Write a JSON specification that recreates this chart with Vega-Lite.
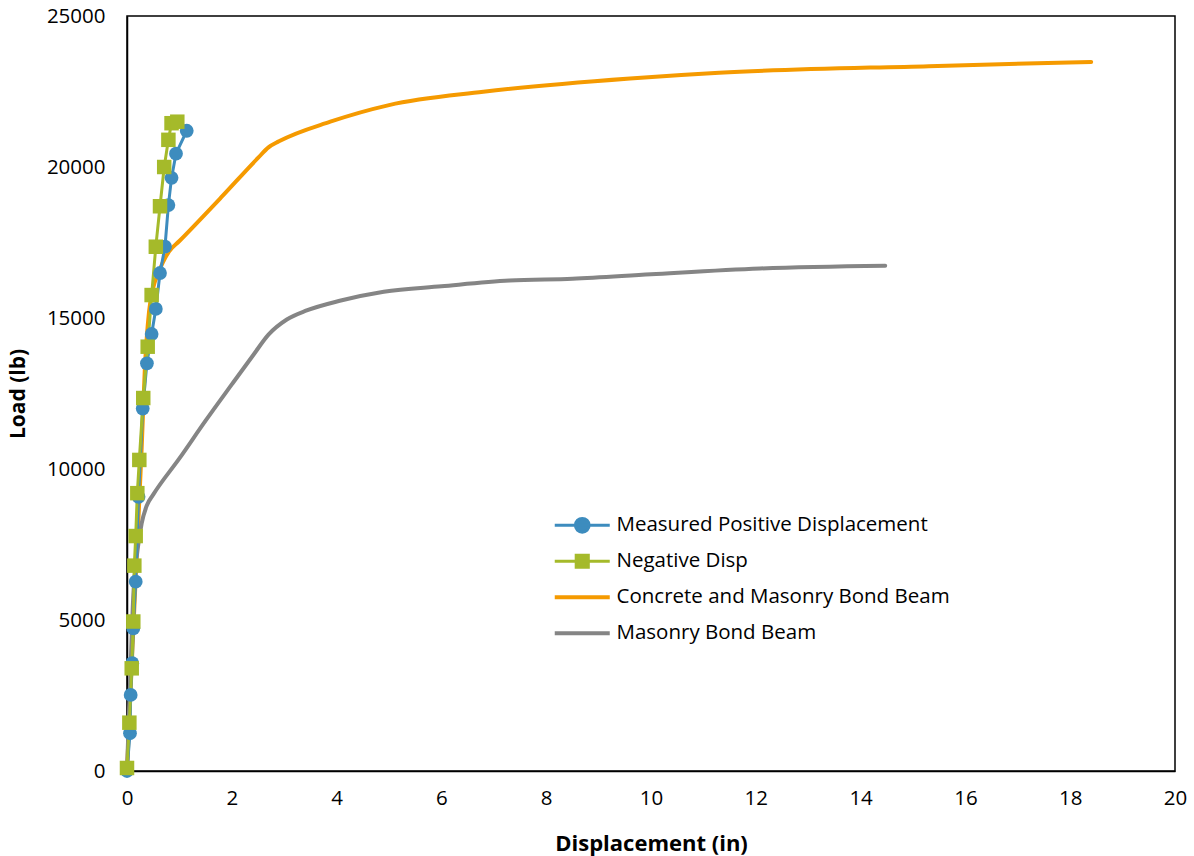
{
  "$schema": "https://vega.github.io/schema/vega-lite/v6.json",
  "autosize": {"type": "none"},
  "padding": {"left": 127, "top": 16, "right": 19, "bottom": 85},
  "width": 1048,
  "height": 755,
  "background": "white",
  "config": {
    "font": "Open Sans",
    "view": {"stroke": "black", "strokeWidth": 1.5},
    "axis": {"grid": false, "ticks": false, "labelFlush": false, "labelOverlap": false, "domainColor": "black", "domainWidth": 1.5, "labelFont": "Open Sans", "labelFontSize": 20.5, "labelColor": "black", "titleFont": "Open Sans", "titleFontSize": 21, "titleFontWeight": "bold", "titleColor": "black"}
  },
  "datasets": {
    "pts": [
      {"series": "Measured Positive Displacement", "i": 0, "d": 0, "load": 0},
      {"series": "Measured Positive Displacement", "i": 1, "d": 0.057, "load": 1250},
      {"series": "Measured Positive Displacement", "i": 2, "d": 0.07, "load": 2520},
      {"series": "Measured Positive Displacement", "i": 3, "d": 0.10, "load": 3570},
      {"series": "Measured Positive Displacement", "i": 4, "d": 0.12, "load": 4720},
      {"series": "Measured Positive Displacement", "i": 5, "d": 0.166, "load": 6270},
      {"series": "Measured Positive Displacement", "i": 6, "d": 0.22, "load": 9080},
      {"series": "Measured Positive Displacement", "i": 7, "d": 0.30, "load": 12000},
      {"series": "Measured Positive Displacement", "i": 8, "d": 0.38, "load": 13500},
      {"series": "Measured Positive Displacement", "i": 9, "d": 0.47, "load": 14470},
      {"series": "Measured Positive Displacement", "i": 10, "d": 0.55, "load": 15300},
      {"series": "Measured Positive Displacement", "i": 11, "d": 0.63, "load": 16490},
      {"series": "Measured Positive Displacement", "i": 12, "d": 0.725, "load": 17360},
      {"series": "Measured Positive Displacement", "i": 13, "d": 0.79, "load": 18740},
      {"series": "Measured Positive Displacement", "i": 14, "d": 0.85, "load": 19640},
      {"series": "Measured Positive Displacement", "i": 15, "d": 0.935, "load": 20440},
      {"series": "Measured Positive Displacement", "i": 16, "d": 1.14, "load": 21200},
      {"series": "Negative Disp", "i": 0, "d": 0, "load": 100},
      {"series": "Negative Disp", "i": 1, "d": 0.045, "load": 1600},
      {"series": "Negative Disp", "i": 2, "d": 0.09, "load": 3400},
      {"series": "Negative Disp", "i": 3, "d": 0.12, "load": 4950},
      {"series": "Negative Disp", "i": 4, "d": 0.14, "load": 6800},
      {"series": "Negative Disp", "i": 5, "d": 0.166, "load": 7780},
      {"series": "Negative Disp", "i": 6, "d": 0.197, "load": 9200},
      {"series": "Negative Disp", "i": 7, "d": 0.235, "load": 10300},
      {"series": "Negative Disp", "i": 8, "d": 0.31, "load": 12350},
      {"series": "Negative Disp", "i": 9, "d": 0.395, "load": 14050},
      {"series": "Negative Disp", "i": 10, "d": 0.47, "load": 15760},
      {"series": "Negative Disp", "i": 11, "d": 0.55, "load": 17360},
      {"series": "Negative Disp", "i": 12, "d": 0.63, "load": 18700},
      {"series": "Negative Disp", "i": 13, "d": 0.71, "load": 20000},
      {"series": "Negative Disp", "i": 14, "d": 0.79, "load": 20900},
      {"series": "Negative Disp", "i": 15, "d": 0.85, "load": 21450},
      {"series": "Negative Disp", "i": 16, "d": 0.96, "load": 21500}
    ],
    "models": [
      {"series": "Concrete and Masonry Bond Beam", "i": 0, "d": 0, "load": 0},
      {"series": "Concrete and Masonry Bond Beam", "i": 1, "d": 0.1, "load": 3900},
      {"series": "Concrete and Masonry Bond Beam", "i": 2, "d": 0.21, "load": 8050},
      {"series": "Concrete and Masonry Bond Beam", "i": 3, "d": 0.28, "load": 10700},
      {"series": "Concrete and Masonry Bond Beam", "i": 4, "d": 0.34, "load": 13300},
      {"series": "Concrete and Masonry Bond Beam", "i": 5, "d": 0.42, "load": 15200},
      {"series": "Concrete and Masonry Bond Beam", "i": 6, "d": 0.5, "load": 16000},
      {"series": "Concrete and Masonry Bond Beam", "i": 7, "d": 0.6, "load": 16500},
      {"series": "Concrete and Masonry Bond Beam", "i": 8, "d": 0.8, "load": 17200},
      {"series": "Concrete and Masonry Bond Beam", "i": 9, "d": 1.0, "load": 17550},
      {"series": "Concrete and Masonry Bond Beam", "i": 10, "d": 1.8, "load": 19000},
      {"series": "Concrete and Masonry Bond Beam", "i": 11, "d": 2.5, "load": 20300},
      {"series": "Concrete and Masonry Bond Beam", "i": 12, "d": 2.7, "load": 20650},
      {"series": "Concrete and Masonry Bond Beam", "i": 13, "d": 2.9, "load": 20850},
      {"series": "Concrete and Masonry Bond Beam", "i": 14, "d": 3.88, "load": 21500},
      {"series": "Concrete and Masonry Bond Beam", "i": 15, "d": 5.0, "load": 22050},
      {"series": "Concrete and Masonry Bond Beam", "i": 16, "d": 6.8, "load": 22490},
      {"series": "Concrete and Masonry Bond Beam", "i": 17, "d": 9.6, "load": 22930},
      {"series": "Concrete and Masonry Bond Beam", "i": 18, "d": 11.3, "load": 23120},
      {"series": "Concrete and Masonry Bond Beam", "i": 19, "d": 15.3, "load": 23340},
      {"series": "Concrete and Masonry Bond Beam", "i": 20, "d": 18.4, "load": 23480},
      {"series": "Masonry Bond Beam", "i": 0, "d": 0, "load": 0},
      {"series": "Masonry Bond Beam", "i": 1, "d": 0.06, "load": 3000},
      {"series": "Masonry Bond Beam", "i": 2, "d": 0.12, "load": 5800},
      {"series": "Masonry Bond Beam", "i": 3, "d": 0.2, "load": 7300},
      {"series": "Masonry Bond Beam", "i": 4, "d": 0.28, "load": 8200},
      {"series": "Masonry Bond Beam", "i": 5, "d": 0.38, "load": 8800},
      {"series": "Masonry Bond Beam", "i": 6, "d": 0.5, "load": 9150},
      {"series": "Masonry Bond Beam", "i": 7, "d": 1.0, "load": 10350},
      {"series": "Masonry Bond Beam", "i": 8, "d": 1.5, "load": 11600},
      {"series": "Masonry Bond Beam", "i": 9, "d": 2.0, "load": 12800},
      {"series": "Masonry Bond Beam", "i": 10, "d": 2.4, "load": 13750},
      {"series": "Masonry Bond Beam", "i": 11, "d": 2.7, "load": 14450},
      {"series": "Masonry Bond Beam", "i": 12, "d": 3.05, "load": 14950},
      {"series": "Masonry Bond Beam", "i": 13, "d": 3.43, "load": 15250},
      {"series": "Masonry Bond Beam", "i": 14, "d": 4.06, "load": 15570},
      {"series": "Masonry Bond Beam", "i": 15, "d": 4.9, "load": 15870},
      {"series": "Masonry Bond Beam", "i": 16, "d": 6.0, "load": 16050},
      {"series": "Masonry Bond Beam", "i": 17, "d": 7.3, "load": 16240},
      {"series": "Masonry Bond Beam", "i": 18, "d": 8.5, "load": 16300},
      {"series": "Masonry Bond Beam", "i": 19, "d": 10.0, "load": 16450},
      {"series": "Masonry Bond Beam", "i": 20, "d": 12.08, "load": 16640},
      {"series": "Masonry Bond Beam", "i": 21, "d": 14.47, "load": 16730}
    ]
  },
  "encoding": {
    "x": {"field": "d", "type": "quantitative", "title": "Displacement (in)", "scale": {"domain": [0, 20], "nice": false}, "axis": {"values": [0, 2, 4, 6, 8, 10, 12, 14, 16, 18, 20], "labelPadding": 17, "titlePadding": 25, "titleFontSize": 22}},
    "y": {"field": "load", "type": "quantitative", "title": "Load (lb)", "scale": {"domain": [0, 25000], "nice": false}, "axis": {"values": [0, 5000, 10000, 15000, 20000, 25000], "format": "d", "labelPadding": 22, "titlePadding": 18}}
  },
  "layer": [
    {
      "data": {"name": "models"},
      "mark": {"type": "line", "interpolate": "monotone", "strokeWidth": 4, "strokeCap": "round"},
      "encoding": {
        "order": {"field": "i", "type": "quantitative"},
        "color": {"field": "series", "type": "nominal", "title": null,
          "scale": {"domain": ["Measured Positive Displacement", "Negative Disp", "Concrete and Masonry Bond Beam", "Masonry Bond Beam"], "range": ["#3D8CBE", "#A5BA2A", "#F59A00", "#858585"]},
          "legend": {
            "orient": "none", "legendX": 445, "legendY": 499,
            "labelFont": "Open Sans", "labelFontSize": 20.5, "labelColor": "black", "labelLimit": 0,
            "gridAlign": "all", "columns": 1,
            "symbolSize": 3025, "symbolStrokeWidth": 3, "rowPadding": 10, "labelOffset": 24,
            "symbolType": "stroke",
            "encode": {"symbols": {"update": {
              "shape": {"signal": "datum.value === 'Measured Positive Displacement' ? 'M-1,0H1M-0.25,0A0.25,0.25,0,1,0,0.25,0A0.25,0.25,0,1,0,-0.25,0Z' : datum.value === 'Negative Disp' ? 'M-1,0H1M-0.22,-0.22H0.22V0.22H-0.22Z' : 'M-1,0H1'"},
              "fill": {"scale": "color", "field": "value"},
              "stroke": {"scale": "color", "field": "value"},
              "strokeWidth": {"signal": "datum.value === 'Measured Positive Displacement' || datum.value === 'Negative Disp' ? 3 : 4"},
              "opacity": {"value": 1}
            }}}
          }
        }
      }
    },
    {
      "data": {"name": "pts"},
      "mark": {"type": "line", "strokeWidth": 3},
      "encoding": {
        "order": {"field": "i", "type": "quantitative"},
        "color": {"field": "series", "type": "nominal"}
      }
    },
    {
      "data": {"name": "pts"},
      "mark": {"type": "point", "filled": true, "opacity": 1},
      "encoding": {
        "color": {"field": "series", "type": "nominal"},
        "shape": {"field": "series", "type": "nominal", "scale": {"domain": ["Measured Positive Displacement", "Negative Disp"], "range": ["circle", "square"]}, "legend": null},
        "size": {"field": "series", "type": "nominal", "scale": {"domain": ["Measured Positive Displacement", "Negative Disp"], "range": [190, 210]}, "legend": null}
      }
    }
  ]
}
